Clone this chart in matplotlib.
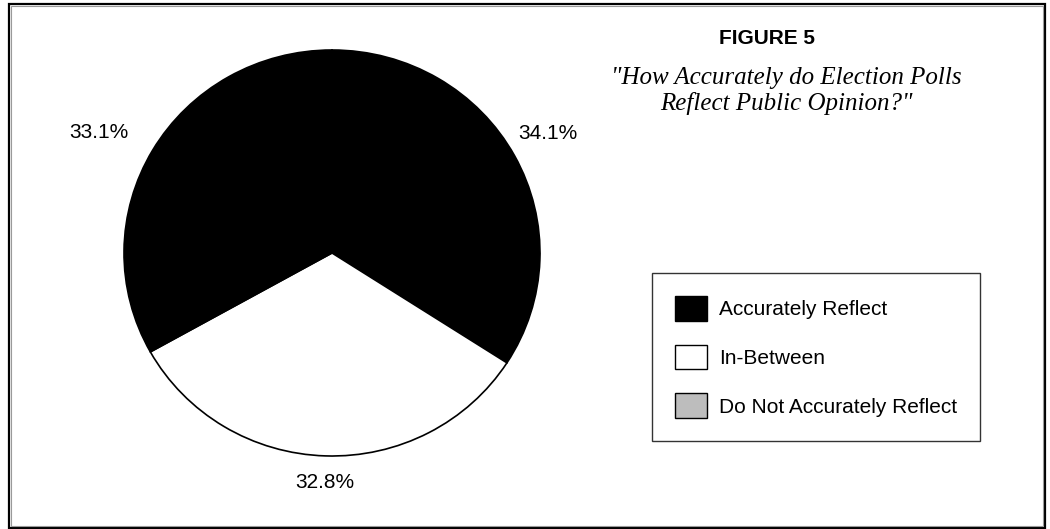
import matplotlib
matplotlib.use('Agg')
import matplotlib.pyplot as plt
from matplotlib.patches import Patch, Rectangle
import numpy as np

W, H = 1050, 529

categories = ['Accurately Reflect', 'In-Between', 'Do Not Accurately Reflect']
shares = [34.1, 32.8, 33.1]
slice_colors = ['black', 'white', 'black']
legend_colors = ['black', 'white', '#bdbdbd']
# radial offsets of the value labels (x factor, y factor) along each slice's mid-angle
label_offsets = [(1.18, 1.23), (1.13, 1.13), (1.30, 1.17)]

title = 'FIGURE 5'
subtitle = '"How Accurately do Election Polls\nReflect Public Opinion?"'

sans = ['Liberation Sans', 'DejaVu Sans']
serif = ['Liberation Serif', 'DejaVu Serif']


def fx(x):
    return x / W


def fy(y):
    return 1 - y / H


fig = plt.figure(figsize=(W / 100, H / 100), dpi=100)
fig.patch.set_facecolor('white')

# outer frame (dark line with a lighter inner rule)
fig.add_artist(Rectangle((fx(9), fy(528)), fx(1045) - fx(9), fy(4) - fy(528),
                         transform=fig.transFigure, fill=False,
                         edgecolor='black', linewidth=1.6))
fig.add_artist(Rectangle((fx(11), fy(526)), fx(1043) - fx(11), fy(6) - fy(526),
                         transform=fig.transFigure, fill=False,
                         edgecolor='#9a9a9a', linewidth=0.8))

# pie, centred at (332, 253) px
cx, cy, rx, ry = 332, 253, 208, 203
ax = fig.add_axes([fx(cx - rx), fy(cy + ry), 2 * rx / W, 2 * ry / H])
wedges, _ = ax.pie(shares, colors=slice_colors, startangle=90, counterclock=False,
                   wedgeprops=dict(edgecolor='black', linewidth=1.2))
ax.set_aspect('auto')
ax.set_xlim(-1, 1)
ax.set_ylim(-1, 1)
ax.axis('off')

for w, v, (kx, ky) in zip(wedges, shares, label_offsets):
    mid = np.deg2rad((w.theta1 + w.theta2) / 2)
    ax.text(kx * np.cos(mid), ky * np.sin(mid), f'{v:.1f}%', ha='center', va='center',
            fontsize=15, family=sans, color='black')

fig.text(fx(767), fy(38), title, ha='center', va='center', fontsize=15,
         fontweight='bold', family=sans)
fig.text(fx(786), fy(91), subtitle, ha='center', va='center', fontsize=18,
         style='italic', family=serif, linespacing=1.12, multialignment='center')

handles = [Patch(facecolor=c, edgecolor='black', linewidth=1) for c in legend_colors]
leg = fig.legend(handles, categories, loc='upper left',
                 bbox_to_anchor=(fx(652), fy(273)), bbox_transform=fig.transFigure,
                 prop={'family': sans, 'size': 15}, frameon=True, fancybox=False,
                 borderpad=1.1, borderaxespad=0, handlelength=1.55, handleheight=1.45,
                 handletextpad=0.55, labelspacing=1.15)
leg.get_frame().set_edgecolor('black')
leg.get_frame().set_linewidth(1.0)

fig.savefig('out.png', dpi=100, facecolor='white')
